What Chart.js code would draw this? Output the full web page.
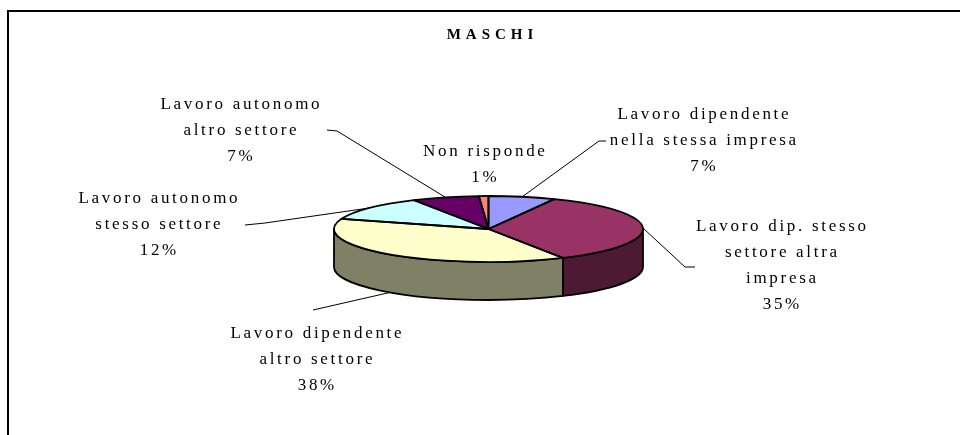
<!DOCTYPE html>
<html>
<head>
<meta charset="utf-8">
<script src="https://cdn.jsdelivr.net/npm/chart.js@4"></script>
<style>
  html, body { margin: 0; padding: 0; background: #fff; }
  #wrap { width: 960px; height: 435px; position: relative; }
</style>
</head>
<body>
<div id="wrap"><canvas id="chart1"></canvas></div>
<script>
/* data (slices clockwise from 12 o'clock) */
const categories = [
  ['Lavoro dipendente', 'nella stessa impresa'],
  ['Lavoro dip. stesso', 'settore altra', 'impresa'],
  ['Lavoro dipendente', 'altro settore'],
  ['Lavoro autonomo', 'stesso settore'],
  ['Lavoro autonomo', 'altro settore'],
  ['Non risponde']
];
const shares = [7, 35, 38, 12, 7, 1];
const topColors = ['#9999FF', '#993366', '#FFFFCC', '#CCFFFF', '#660066', '#FF8080'];
const sideColors = ['#4D4D80', '#4D1A33', '#808066', '#668080', '#330033', '#804040'];
const chartTitle = 'MASCHI';

/* where each label sits and the bent end of its leader line */
const labelSpots = [
  { x: 703, y: 115, lead: [[606, 141], [599, 141]], bottom: false },
  { x: 781, y: 227, lead: [[695, 267], [685, 267]], bottom: false },
  { x: 316, y: 334, lead: [[313, 310]], bottom: true },
  { x: 158, y: 199, lead: [[245, 225], [265, 223]], bottom: false },
  { x: 240, y: 105, lead: [[327, 130], [337, 131]], bottom: false },
  { x: 484, y: 152, lead: null, bottom: false }
];

/* 3D look: squash factor of the top face and height of the wall */
const TILT = 33 / 154.5;
const DEPTH = 38;
const LINE_H = 25.7;

const total = shares.reduce((a, b) => a + b, 0);

const pie3d = {
  id: 'pie3d',
  beforeDraw(chart) {
    const ctx = chart.ctx;
    ctx.save();
    // frame: only left and top edges are visible
    ctx.strokeStyle = '#000';
    ctx.lineWidth = 2;
    ctx.beginPath();
    ctx.moveTo(8, 435);
    ctx.lineTo(8, 11);
    ctx.lineTo(960, 11);
    ctx.stroke();
    // title
    ctx.fillStyle = '#000';
    ctx.font = 'bold 15px "Liberation Serif"';
    ctx.letterSpacing = '5px';
    ctx.textAlign = 'center';
    ctx.textBaseline = 'middle';
    ctx.fillText(chartTitle, 490 + 2.5, 35);
    ctx.restore();
  },
  beforeDatasetsDraw(chart) {
    const ctx = chart.ctx;
    const arcs = chart.getDatasetMeta(0).data;
    // side walls, front half only
    ctx.save();
    ctx.lineWidth = 1.8;
    ctx.strokeStyle = '#000';
    ctx.lineJoin = 'round';
    arcs.forEach((el, i) => {
      const a = Math.max(el.startAngle, 0);
      const b = Math.min(el.endAngle, Math.PI);
      if (a >= b) return;
      const r = el.outerRadius;
      ctx.beginPath();
      ctx.ellipse(el.x, el.y, r, r * TILT, 0, a, b);
      ctx.ellipse(el.x, el.y + DEPTH, r, r * TILT, 0, b, a, true);
      ctx.closePath();
      ctx.fillStyle = sideColors[i];
      ctx.fill();
      ctx.stroke();
    });
    ctx.restore();
    // squash the library's own slices into the top face
    const c = arcs[0];
    ctx.save();
    ctx.translate(0, c.y);
    ctx.scale(1, TILT);
    ctx.translate(0, -c.y);
  },
  afterDatasetsDraw(chart) {
    const ctx = chart.ctx;
    ctx.restore();
    const arcs = chart.getDatasetMeta(0).data;
    ctx.save();
    ctx.lineWidth = 1.8;
    ctx.strokeStyle = '#000';
    ctx.lineJoin = 'round';
    // outlines of the top face
    arcs.forEach((el) => {
      const r = el.outerRadius;
      ctx.beginPath();
      ctx.moveTo(el.x, el.y);
      ctx.lineTo(el.x + r * Math.cos(el.startAngle), el.y + r * TILT * Math.sin(el.startAngle));
      ctx.ellipse(el.x, el.y, r, r * TILT, 0, el.startAngle, el.endAngle);
      ctx.closePath();
      ctx.stroke();
    });
    // leader lines
    ctx.lineWidth = 1;
    arcs.forEach((el, i) => {
      const spot = labelSpots[i];
      if (!spot.lead) return;
      const mid = (el.startAngle + el.endAngle) / 2;
      const r = el.outerRadius;
      const px = el.x + r * Math.cos(mid);
      const py = el.y + r * TILT * Math.sin(mid) + (spot.bottom ? DEPTH : 0);
      ctx.beginPath();
      ctx.moveTo(spot.lead[0][0], spot.lead[0][1]);
      for (let k = 1; k < spot.lead.length; k++) ctx.lineTo(spot.lead[k][0], spot.lead[k][1]);
      ctx.lineTo(px, py);
      ctx.stroke();
    });
    // labels
    ctx.fillStyle = '#000';
    ctx.font = '17px "Liberation Serif"';
    const ls = 2.7;
    ctx.letterSpacing = ls + 'px';
    ctx.textAlign = 'center';
    ctx.textBaseline = 'middle';
    arcs.forEach((el, i) => {
      const spot = labelSpots[i];
      const lines = categories[i].concat([Math.round(shares[i] / total * 100) + '%']);
      lines.forEach((t, k) => ctx.fillText(t, spot.x + ls / 2, spot.y + k * LINE_H));
    });
    ctx.restore();
  }
};

const chart1 = document.getElementById('chart1');
const myChart1 = new Chart(chart1, {
  type: 'pie',
  data: {
    labels: categories,
    datasets: [{
      data: shares,
      backgroundColor: topColors,
      borderWidth: 0,
      hoverBorderWidth: 0,
      offset: 0,
      hoverOffset: 0,
      clip: false
    }]
  },
  options: {
    responsive: true,
    maintainAspectRatio: false,
    animation: false,
    events: [],
    layout: {
      padding: { left: 334, right: 317, top: 74, bottom: 51 }
    },
    plugins: {
      legend: { display: false },
      title: { display: false },
      tooltip: { enabled: false }
    }
  },
  plugins: [pie3d]
});
</script>
</body>
</html>
